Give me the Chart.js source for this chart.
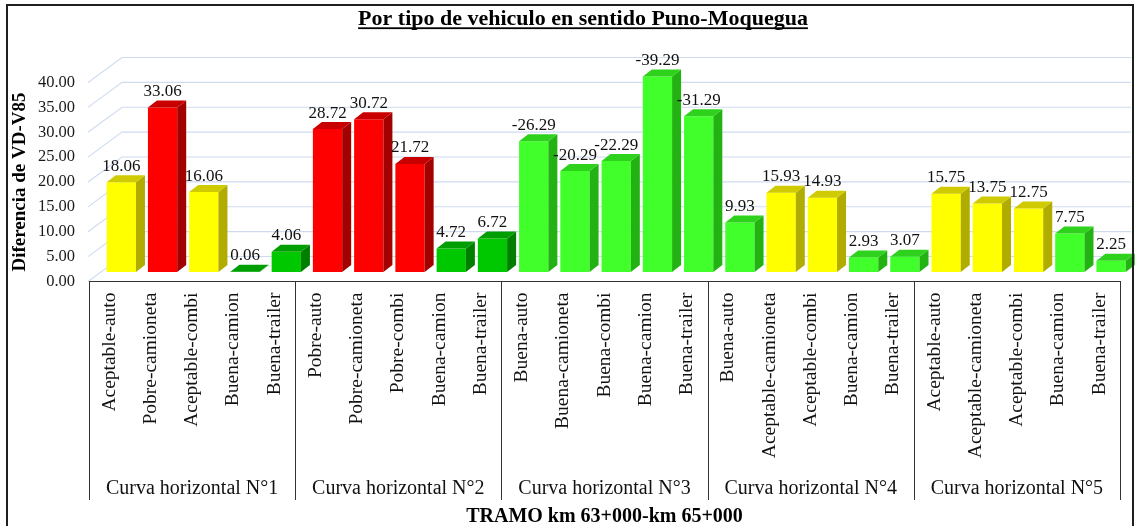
<!DOCTYPE html>
<html><head><meta charset="utf-8">
<script src="https://cdn.jsdelivr.net/npm/chart.js@4.4.0/dist/chart.umd.min.js"></script>
<style>html,body{margin:0;padding:0;background:#fff;}#wrap{width:1140px;height:526px;}</style>
</head><body><div id="wrap"><canvas id="c" width="1140" height="526"></canvas></div>
<script>
const chartTitle = 'Por tipo de vehiculo en sentido Puno-Moquegua';
const yTitle = 'Diferencia de VD-V85';
const xTitle = 'TRAMO km 63+000-km 65+000';
const groups = ['Curva horizontal N°1','Curva horizontal N°2','Curva horizontal N°3','Curva horizontal N°4','Curva horizontal N°5'];
const categories = [
  'Aceptable-auto','Pobre-camioneta','Aceptable-combi','Buena-camion','Buena-trailer',
  'Pobre-auto','Pobre-camioneta','Pobre-combi','Buena-camion','Buena-trailer',
  'Buena-auto','Buena-camioneta','Buena-combi','Buena-camion','Buena-trailer',
  'Buena-auto','Aceptable-camioneta','Aceptable-combi','Buena-camion','Buena-trailer',
  'Aceptable-auto','Aceptable-camioneta','Aceptable-combi','Buena-camion','Buena-trailer'
];
const values = [
  18.06, 33.06, 16.06, 0.06, 4.06,
  28.72, 30.72, 21.72, 4.72, 6.72,
  -26.29, -20.29, -22.29, -39.29, -31.29,
  9.93, 15.93, 14.93, 2.93, 3.07,
  15.75, 13.75, 12.75, 7.75, 2.25
];
const yTicks = [0, 5, 10, 15, 20, 25, 30, 35, 40];

const PER_GROUP = 5;
const FONT = 'Liberation Serif';
const palette = {
  Aceptable: {front:'#FFFF00', side:'#B0AC00', top:'#CFCB00'},
  Pobre:     {front:'#FF0000', side:'#A30000', top:'#C90000'},
  BuenaDark: {front:'#00C800', side:'#007E00', top:'#009E00'},
  Buena:     {front:'#40FF2A', side:'#22B212', top:'#2ED21C'}
};
function styleFor(i){
  const rating = categories[i].split('-')[0];
  if (rating === 'Buena' && Math.floor(i / PER_GROUP) < 2) return palette.BuenaDark;
  return palette[rating];
}
const BAR_DX = 11.7, BAR_DY = -9.5;   // bar position within floor depth
const D_DX = 9, D_DY = -7;            // bar depth
const W_DX = 33, W_DY = -25;          // back wall offset

const threeD = {
  id: 'threeD',
  beforeDatasetsDraw(chart){
    const {ctx, chartArea:a, scales:{y}} = chart;
    ctx.save();
    ctx.strokeStyle = '#cfdcf0'; ctx.lineWidth = 1.2;
    yTicks.forEach(v => {
      const yy = y.getPixelForValue(v);
      ctx.beginPath();
      ctx.moveTo(a.left - 1, yy);
      ctx.lineTo(a.left + W_DX, yy + W_DY);
      ctx.lineTo(Math.min(a.right + W_DX, 1131), yy + W_DY);
      ctx.stroke();
    });
    ctx.restore();
    ctx.save();
    ctx.translate(BAR_DX, BAR_DY);
  },
  afterDatasetsDraw(chart){
    const {ctx} = chart;
    const meta = chart.getDatasetMeta(0);
    const poly = pts => { ctx.beginPath(); ctx.moveTo(pts[0][0], pts[0][1]); for (let k=1;k<pts.length;k++) ctx.lineTo(pts[k][0], pts[k][1]); ctx.closePath(); ctx.fill(); };
    meta.data.forEach((el, i) => {
      const p = el.getProps(['x','y','base','width'], true);
      const l = p.x - p.width/2, r = p.x + p.width/2;
      const s = styleFor(i);
      ctx.fillStyle = s.side;
      poly([[r, p.y],[r + D_DX, p.y + D_DY],[r + D_DX, p.base + D_DY],[r, p.base]]);
      ctx.fillStyle = s.top;
      poly([[l, p.y],[r, p.y],[r + D_DX, p.y + D_DY],[l + D_DX, p.y + D_DY]]);
    });
    ctx.restore();
    ctx.save();
    ctx.fillStyle = '#111';
    ctx.font = '17px "' + FONT + '", serif';
    ctx.textAlign = 'center'; ctx.textBaseline = 'middle';
    meta.data.forEach((el, i) => {
      const p = el.getProps(['x','y'], true);
      ctx.fillText(values[i].toFixed(2), p.x + BAR_DX, p.y + BAR_DY - 16);
    });
    ctx.restore();
  },
  afterDraw(chart){
    const {ctx, chartArea:a, scales:{x}} = chart;
    ctx.save();
    const half = (x.getPixelForTick(1) - x.getPixelForTick(0)) / 2;
    const bounds = [];
    for (let g = 0; g <= groups.length; g++) {
      bounds.push(g === 0 ? a.left : (g === groups.length ? a.right : x.getPixelForTick(g*PER_GROUP) - half));
    }
    ctx.strokeStyle = '#333'; ctx.lineWidth = 1;
    bounds.forEach(bx => { const xx = Math.round(bx) + 0.5; ctx.beginPath(); ctx.moveTo(xx, a.bottom); ctx.lineTo(xx, 500); ctx.stroke(); });
    ctx.fillStyle = '#111';
    ctx.font = '20px "' + FONT + '", serif';
    ctx.textAlign = 'center'; ctx.textBaseline = 'middle';
    groups.forEach((g, k) => ctx.fillText(g, (bounds[k] + bounds[k+1]) / 2, 489));
    ctx.fillStyle = '#000';
    ctx.font = 'bold 22px "' + FONT + '", serif';
    ctx.textAlign = 'center'; ctx.textBaseline = 'alphabetic';
    const tx = 583;
    ctx.fillText(chartTitle, tx, 25);
    const tw = ctx.measureText(chartTitle).width;
    ctx.fillRect(tx - tw/2, 27.3, tw, 1.8);
    ctx.strokeStyle = '#1f1f1f'; ctx.lineWidth = 2;
    ctx.strokeRect(7, 5, 1126, 560);
    ctx.restore();
  }
};

new Chart(document.getElementById('c'), {
  type: 'bar',
  data: {
    labels: categories,
    datasets: [{
      data: values.map(Math.abs),
      backgroundColor: categories.map((c, i) => styleFor(i).front),
      borderWidth: 0,
      barPercentage: 0.71,
      categoryPercentage: 1,
      clip: false
    }]
  },
  options: {
    responsive: false,
    animation: false,
    events: [],
    layout: {padding: {left: 8, right: 20, top: 82.5, bottom: 0}},
    plugins: {legend: {display: false}, tooltip: {enabled: false}, title: {display: false}},
    scales: {
      x: {
        type: 'category',
        grid: {display: false, drawTicks: false},
        border: {display: true, color: '#333', width: 1},
        ticks: {autoSkip: false, minRotation: 90, maxRotation: 90, padding: 11, color: '#111',
                font: {family: FONT, size: 19.5}},
        title: {display: true, text: xTitle, color: '#000', padding: 0,
                font: {family: FONT, size: 20, weight: 'bold', lineHeight: 0.9}},
        afterFit: s => { s.height = 244.5; }
      },
      y: {
        min: 0, max: 40,
        afterBuildTicks: s => { s.ticks = yTicks.map(v => ({value: v})); },
        grid: {display: false, drawTicks: false},
        border: {display: false},
        ticks: {padding: 14, color: '#1a1a1a', font: {family: FONT, size: 16.5},
                callback: v => Number(v).toFixed(2)},
        title: {display: true, text: yTitle, color: '#000', padding: {top: 1, bottom: 0},
                font: {family: FONT, size: 19, weight: 'bold'}},
        afterFit: s => { s.width = 81; }
      }
    }
  },
  plugins: [threeD]
});
</script></body></html>
